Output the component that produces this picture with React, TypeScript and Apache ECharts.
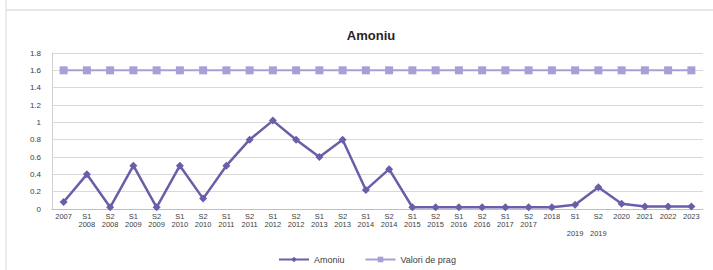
import React, { useEffect, useRef } from "react";
import * as echarts from "echarts";

const categories = [
  "2007", "S1\n2008", "S2\n2008", "S1\n2009", "S2\n2009", "S1\n2010", "S2\n2010",
  "S1\n2011", "S2\n2011", "S1\n2012", "S2\n2012", "S1\n2013", "S2\n2013",
  "S1\n2014", "S2\n2014", "S1\n2015", "S2\n2015", "S1\n2016", "S2\n2016",
  "S1\n2017", "S2\n2017", "2018", "S1\n\n2019", "S2\n\n2019", "2020", "2021", "2022", "2023",
];
const amoniu = [
  0.08, 0.4, 0.02, 0.5, 0.02, 0.5, 0.12, 0.5, 0.8, 1.02, 0.8, 0.6, 0.8, 0.22, 0.46,
  0.02, 0.02, 0.02, 0.02, 0.02, 0.02, 0.02, 0.05, 0.25, 0.06, 0.03, 0.03, 0.03,
];
const valoriDePrag = [
  1.6, 1.6, 1.6, 1.6, 1.6, 1.6, 1.6, 1.6, 1.6, 1.6, 1.6, 1.6, 1.6, 1.6, 1.6, 1.6,
  1.6, 1.6, 1.6, 1.6, 1.6, 1.6, 1.6, 1.6, 1.6, 1.6, 1.6, 1.6,
];
const seriesNames = ["Amoniu", "Valori de prag"];
const title = "Amoniu";

export default function App() {
  const ref = useRef<HTMLDivElement>(null);
  useEffect(() => {
    document.body.style.margin = "0";
    const chart = echarts.init(ref.current!, null, { renderer: "svg" });
    const font = "'Liberation Sans', Arial, sans-serif";
    chart.setOption({
      animation: false,
      backgroundColor: "#ffffff",
      textStyle: { fontFamily: font },
      title: {
        text: title,
        left: 366,
        textAlign: "center",
        top: 24,
        textStyle: { fontSize: 13, fontWeight: "bold", color: "#262626", fontFamily: font },
      },
      graphic: [
        { type: "line", shape: { x1: 6, y1: 10, x2: 713, y2: 10 }, style: { stroke: "#d0d0d0", lineWidth: 1 } },
        { type: "line", shape: { x1: 6, y1: 0, x2: 6, y2: 270 }, style: { stroke: "#d8d8d8", lineWidth: 1 } },
      ],
      legend: {
        bottom: 1,
        left: 273,
        itemWidth: 30,
        itemHeight: 7,
        itemGap: 20,
        textStyle: { fontSize: 9, color: "#404040", fontFamily: font },
        data: seriesNames,
      },
      grid: { left: 52, right: 10, top: 53, bottom: 61, containLabel: false },
      xAxis: {
        type: "category",
        data: categories,
        boundaryGap: true,
        axisLine: { show: true, lineStyle: { color: "#bfbfbf" } },
        axisTick: { show: false },
        axisLabel: {
          interval: 0,
          fontSize: 7.5,
          lineHeight: 8.5,
          color: "#404040",
          margin: 3,
          fontFamily: font,
        },
      },
      yAxis: {
        type: "value",
        min: 0,
        max: 1.8,
        interval: 0.2,
        axisLine: { show: true, lineStyle: { color: "#d0d0d0" } },
        axisTick: { show: false },
        splitLine: { lineStyle: { color: "#d9d9d9" } },
        axisLabel: {
          fontSize: 8,
          color: "#404040",
          margin: 11,
          fontFamily: font,
          formatter: (v: number) => String(+v.toFixed(1)),
        },
      },
      series: [
        {
          name: seriesNames[0],
          type: "line",
          data: amoniu,
          symbol: "diamond",
          symbolSize: 8,
          itemStyle: { color: "#6a5ea8" },
          lineStyle: { color: "#6a5ea8", width: 2.5 },
        },
        {
          name: seriesNames[1],
          type: "line",
          data: valoriDePrag,
          symbol: "rect",
          symbolSize: 8,
          itemStyle: { color: "#a99fd6" },
          lineStyle: { color: "#a99fd6", width: 2 },
        },
      ],
    });
    return () => chart.dispose();
  }, []);
  return <div ref={ref} style={{ width: 713, height: 270 }} />;
}
